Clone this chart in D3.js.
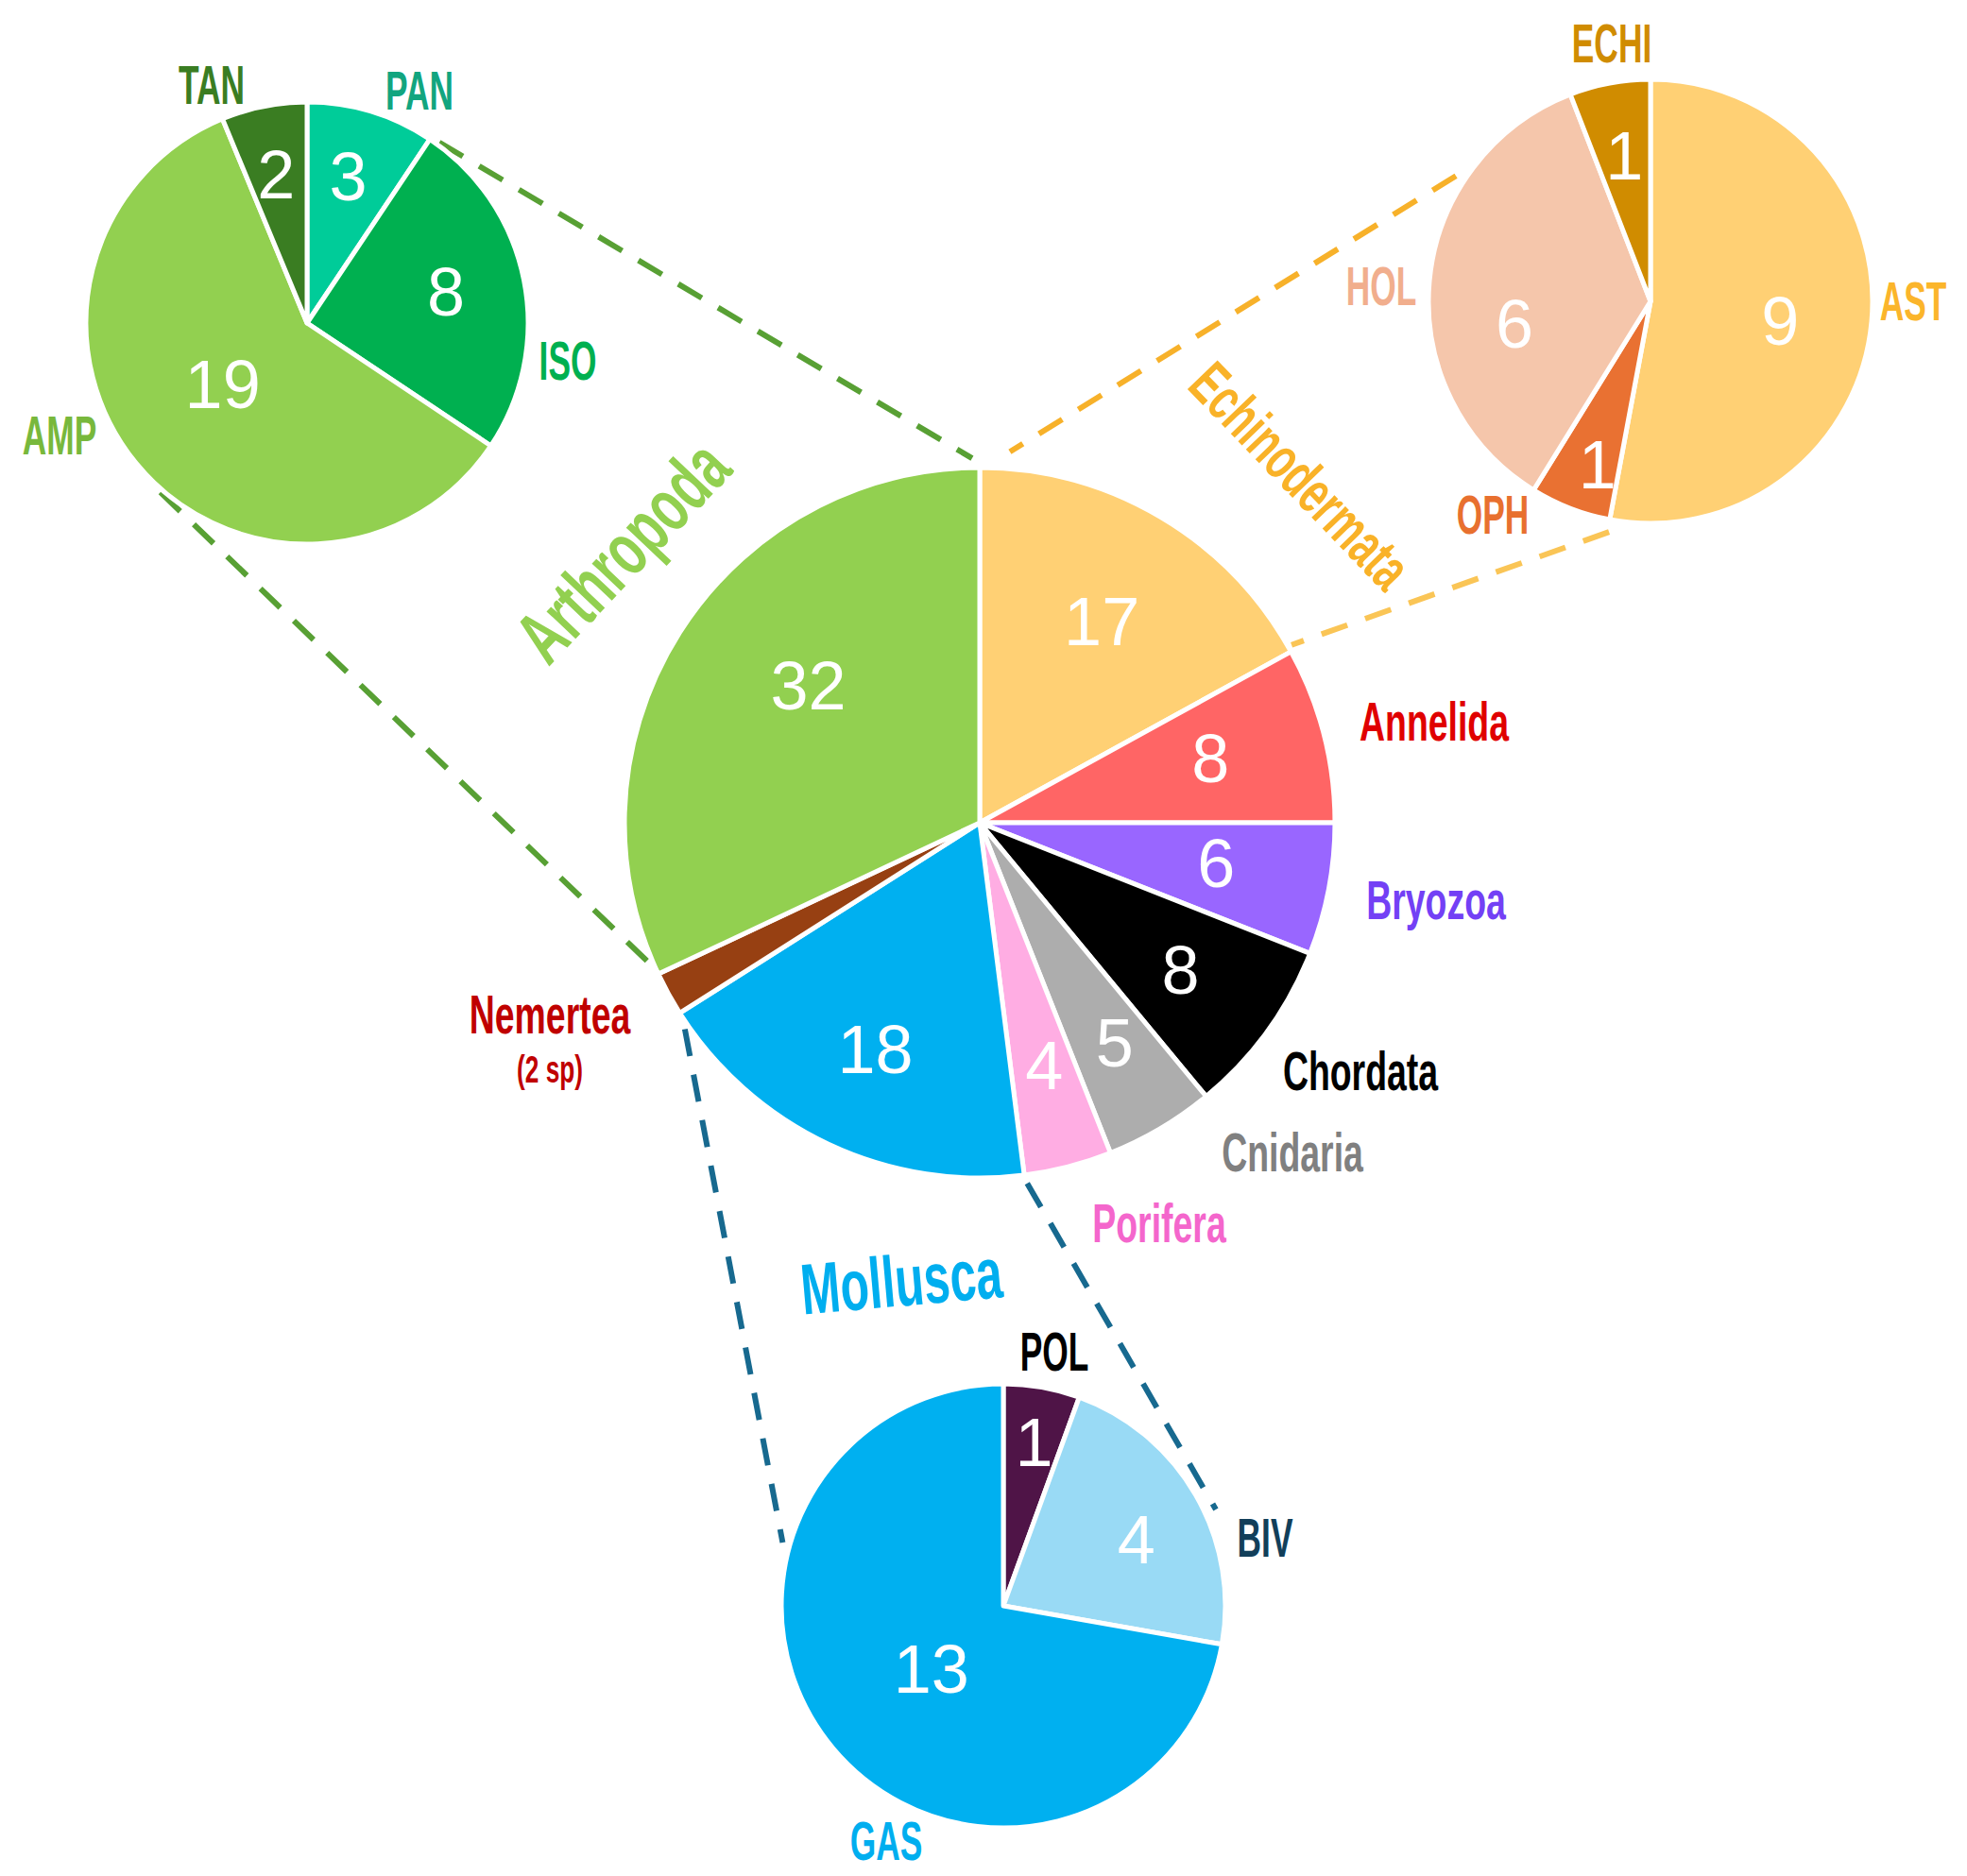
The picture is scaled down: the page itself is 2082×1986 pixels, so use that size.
<!DOCTYPE html>
<html>
<head>
<meta charset="utf-8">
<script src="https://cdn.jsdelivr.net/npm/d3@7"></script>
<style>html,body{margin:0;padding:0;background:#fff;}svg{display:block;}</style>
</head>
<body>
<svg id="chart" width="2082" height="1986"></svg>
<script>
// ---------------- DATA ----------------
const phyla = ["Echinodermata","Annelida","Bryozoa","Chordata","Cnidaria","Porifera","Mollusca","Nemertea","Arthropoda"];
const phylaCounts = [17, 8, 6, 8, 5, 4, 18, 2, 32];
const arthropodGroups = ["PAN","ISO","AMP","TAN"];
const arthropodCounts = [3, 8, 19, 2];
const echinoGroups = ["AST","OPH","HOL","ECHI"];
const echinoCounts = [9, 1, 6, 1];
const molluscGroups = ["POL","BIV","GAS"];
const molluscCounts = [1, 4, 13];
const nemerteaNote = "(2 sp)";

// ---------------- STYLE / LAYOUT ----------------
const mainFills = ["#FFD074","#FF6565","#9966FF","#000000","#ADADAD","#FFADE3","#00B0F0","#974012","#92D050"];
const arthFills = ["#00CC99","#00B050","#92D050","#3A7D22"];
const echiFills = ["#FFD074","#E97132","#F5C6AB","#D08C00"];
const mollFills = ["#4F1447","#99DAF5","#00B0F0"];

const LABEL_FONT = "'Liberation Sans Narrow','Liberation Sans',Arial,sans-serif";
const NUM_FONT = "'Liberation Sans',Arial,sans-serif";

const pies = {
  main: {cx:1037, cy:871, r:376, names:phyla, values:phylaCounts, fills:mainFills,
         numPos:[[0.5,0.665],[-1.4,0.675],[-1.3,0.675],[0.2,0.70],[-1,0.725],[-0.5,0.705],[-0.4,0.70],null,[6.5,0.62]]},
  arth: {cx:325, cy:342, r:234, names:arthropodGroups, values:arthropodCounts, fills:arthFills,
         numPos:[[-1.2,0.69],[-1.75,0.645],[3.7,0.47],[-0.45,0.69]]},
  echi: {cx:1747, cy:319, r:235, names:echinoGroups, values:echinoCounts, fills:echiFills,
         numPos:[[2.9,0.59],[-3.1,0.77],[-14.3,0.62],[0.4,0.67]]},
  moll: {cx:1062, cy:1700, r:235, names:molluscGroups, values:molluscCounts, fills:mollFills,
         numPos:[[0.6,0.755],[3.4,0.67],[-1,0.43]]}
};

// text labels: pie, text, dx, dy (baseline or center), rotation, size, color, centered
const textLabels = [
  ["main","Annelida",481,-87,0,57,"#E00000",false],
  ["main","Bryozoa",483,102,0,57,"#7340F5",false],
  ["main","Chordata",403,283,0,57,"#000000",false],
  ["main","Cnidaria",331,369,0,57,"#808080",false],
  ["main","Porifera",190,444,0,57,"#F466CC",false],
  ["main","Nemertea",-455,223,0,57,"#C00000",false],
  ["main",nemerteaNote,-455,275,0,40,"#C00000",false],
  ["main","Arthropoda",-379,-288,-46.5,80,"#92D050",true],
  ["main","Echinodermata",340,-368,46,64,"#F9B228",true],
  ["main","Mollusca",-83,484,-5,76,"#00AEEF",true],
  ["arth","TAN",-101,-232,0,57,"#3A7D22",false],
  ["arth","PAN",119,-226,0,57,"#12A57F",false],
  ["arth","ISO",276,60,0,57,"#00B050",false],
  ["arth","AMP",-262,139,0,57,"#78B83C",false],
  ["echi","ECHI",-41,-253,0,57,"#D08C00",false],
  ["echi","AST",278,20,0,57,"#FBB52B",false],
  ["echi","HOL",-285,4,0,57,"#F1AE8D",false],
  ["echi","OPH",-167,246,0,57,"#E8702F",false],
  ["moll","POL",54,-249,0,57,"#000000",false],
  ["moll","BIV",277,-52,0,57,"#123F5A",false],
  ["moll","GAS",-124,269,0,57,"#00AEEF",false]
];

// connectors: from pie/angle/offset to pie/angle/offset
const connectors = [
  ["arth",36.2,3,"main",358.8,10,"#58A034"],
  ["arth",220.9,3,"main",245.5,0,"#58A034"],
  ["echi",302.8,10,"main",4.65,18,"#F7B12A"],
  ["echi",190.2,13,"main",60.3,4,"#FAC556"],
  ["main",235,5,"moll",286,8,"#17698F"],
  ["main",172.5,9,"moll",65.6,12,"#17698F"]
];

// ---------------- DRAW ----------------
const svg = d3.select("#chart");
const rad = d => d * Math.PI / 180;

function polar(p, angDeg, R) {
  return [p.cx + R * Math.sin(rad(angDeg)), p.cy - R * Math.cos(rad(angDeg))];
}

function measure(str, size) {
  const t = svg.append("text").attr("font-family", LABEL_FONT).attr("font-weight", "bold")
    .attr("font-size", size).text(str);
  const w = t.node().getComputedTextLength();
  t.remove();
  return w;
}
const mixK = 158 / measure("Annelida", 57);
const capsK = 72 / measure("PAN", 57);

// connectors (below pies)
const gLines = svg.append("g");
connectors.forEach(c => {
  const pa = pies[c[0]], pb = pies[c[3]];
  const a = polar(pa, c[1], pa.r + c[2]);
  const b = polar(pb, c[4], pb.r + c[5]);
  gLines.append("line")
    .attr("x1", a[0]).attr("y1", a[1]).attr("x2", b[0]).attr("y2", b[1])
    .attr("stroke", c[6]).attr("stroke-width", 6).attr("stroke-dasharray", "29 20");
});

// pies
const pieGen = d3.pie().sort(null).value(d => d.v);
Object.keys(pies).forEach(key => {
  const p = pies[key];
  const data = p.values.map((v, i) => ({name: p.names[i], v, i}));
  const arcs = pieGen(data);
  const arc = d3.arc().innerRadius(0).outerRadius(p.r);
  const g = svg.append("g").attr("transform", `translate(${p.cx},${p.cy})`);
  g.selectAll("path").data(arcs).join("path")
    .attr("d", arc)
    .attr("fill", d => p.fills[d.data.i])
    .attr("stroke", "#fff").attr("stroke-width", 5).attr("stroke-linejoin", "round");
  g.selectAll("text").data(arcs.filter(d => p.numPos[d.data.i])).join("text")
    .attr("transform", d => {
      const np = p.numPos[d.data.i];
      const mid = (d.startAngle + d.endAngle) / 2 + rad(np[0]);
      const R = p.r * np[1];
      return `translate(${R * Math.sin(mid)},${-R * Math.cos(mid)})`;
    })
    .attr("text-anchor", "middle").attr("dy", "0.36em")
    .attr("font-family", NUM_FONT).attr("font-size", 72).attr("fill", "#fff")
    .text(d => d.data.v);
});

// text labels
const gText = svg.append("g");
textLabels.forEach(l => {
  const p = pies[l[0]];
  const k = /[a-z]/.test(l[1]) ? mixK : capsK;
  const t = gText.append("text")
    .attr("transform", `translate(${p.cx + l[2]},${p.cy + l[3]}) rotate(${l[4]}) scale(${k},1)`)
    .attr("text-anchor", "middle")
    .attr("font-family", LABEL_FONT).attr("font-weight", "bold")
    .attr("font-size", l[5]).attr("fill", l[6])
    .text(l[1]);
  if (l[7]) t.attr("dy", "0.36em");
});
</script>
</body>
</html>
